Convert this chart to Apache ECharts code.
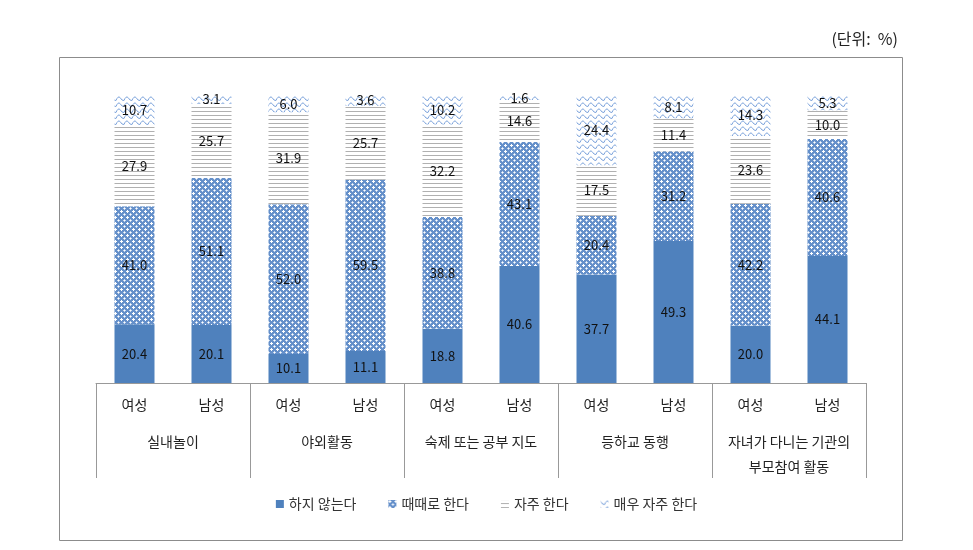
<!DOCTYPE html>
<html><head><meta charset="utf-8">
<script src="https://cdn.jsdelivr.net/npm/echarts@6/dist/echarts.min.js"></script>
<style>html,body{margin:0;padding:0;background:#fff}#c{width:973px;height:550px}</style>
</head><body><div id="c"></div>
<script>
const genders = ['여성','남성','여성','남성','여성','남성','여성','남성','여성','남성'];
const groups = ['실내놀이','야외활동','숙제 또는 공부 지도','등하교 동행','자녀가 다니는 기관의\n부모참여 활동'];
const seriesNames = ['하지 않는다','때때로 한다','자주 한다','매우 자주 한다'];
const never     = [20.4, 20.1, 10.1, 11.1, 18.8, 40.6, 37.7, 49.3, 20.0, 44.1];
const sometimes = [41.0, 51.1, 52.0, 59.5, 38.8, 43.1, 20.4, 31.2, 42.2, 40.6];
const often     = [27.9, 25.7, 31.9, 25.7, 32.2, 14.6, 17.5, 11.4, 23.6, 10.0];
const veryOften = [10.7, 3.1, 6.0, 3.6, 10.2, 1.6, 24.4, 8.1, 14.3, 5.3];
const unitText = '(단위:  %)';

function makeCanvas(w,h){const c=document.createElement('canvas');c.width=w;c.height=h;return c;}
// crosshatch dots
const p1 = makeCanvas(6,6); (function(){const g=p1.getContext('2d');g.fillStyle='#6590ca';g.fillRect(0,0,6,6);
 g.fillStyle='#ffffff';g.fillRect(1,0,1,3);g.fillRect(0,1,3,1);
 g.fillStyle='#c9d9ef';g.fillRect(4,3,1,3);g.fillRect(3,4,3,1);g.fillStyle='#ffffff';g.fillRect(4,4,1,1);})();
// horizontal lines
const p2 = makeCanvas(4,4); (function(){const g=p2.getContext('2d');g.fillStyle='#ffffff';g.fillRect(0,0,4,4);
 g.fillStyle='#b0b0b0';g.fillRect(0,3,4,1);})();
// zigzag waves
const p3 = makeCanvas(8,6); (function(){const g=p3.getContext('2d');g.fillStyle='#ffffff';g.fillRect(0,0,8,6);
 g.strokeStyle='#7fa5dc';g.lineWidth=1;g.beginPath();g.moveTo(0,1.5);g.quadraticCurveTo(2,5,4,4.5);g.quadraticCurveTo(6,-0.5,8,1.5);g.stroke();})();

const colors = ['#4f81bd',{image:p1,repeat:'repeat'},{image:p2,repeat:'repeat'},{image:p3,repeat:'repeat'}];
const datas = [never, sometimes, often, veryOften];
const font = '"Noto Sans CJK KR", "Noto Sans", sans-serif';

const chart = echarts.init(document.getElementById('c'));
chart.setOption({
  animation:false,
  textStyle:{fontFamily:font},
  graphic:[
    {type:'rect',shape:{x:59.5,y:57.5,width:843,height:483},style:{fill:'none',stroke:'#8c8c8c',lineWidth:1},z:-1},
    {type:'text',right:75,top:31,style:{text:unitText,fill:'#222',font:'16px '+font}}
  ],
  legend:{bottom:34,left:'center',itemWidth:8,itemHeight:8,itemGap:32,icon:'rect',
    textStyle:{fontSize:14,color:'#333',fontFamily:font},data:seriesNames},
  grid:{left:96,right:107,top:95,bottom:167},
  xAxis:[
    {type:'category',data:genders,axisLine:{lineStyle:{color:'#999'}},axisTick:{show:false},
     axisLabel:{interval:0,color:'#222',fontSize:14,margin:15,fontFamily:font}},
    {type:'category',data:groups,position:'bottom',axisLine:{show:false},
     axisTick:{show:true,interval:0,length:95,lineStyle:{color:'#999'}},
     axisLabel:{interval:0,color:'#222',fontSize:14,margin:46,lineHeight:25,fontFamily:font}}
  ],
  yAxis:{type:'value',min:0,max:100,show:false,splitLine:{show:false}},
  series: seriesNames.map((n,i)=>({
    name:n,type:'bar',stack:'s',barWidth:40,data:datas[i],
    itemStyle:{color:colors[i]},
    label:{show:true,position:'inside',color:'#111',fontSize:13,fontFamily:font,formatter:p=>p.value.toFixed(1)}
  }))
});
</script></body></html>
